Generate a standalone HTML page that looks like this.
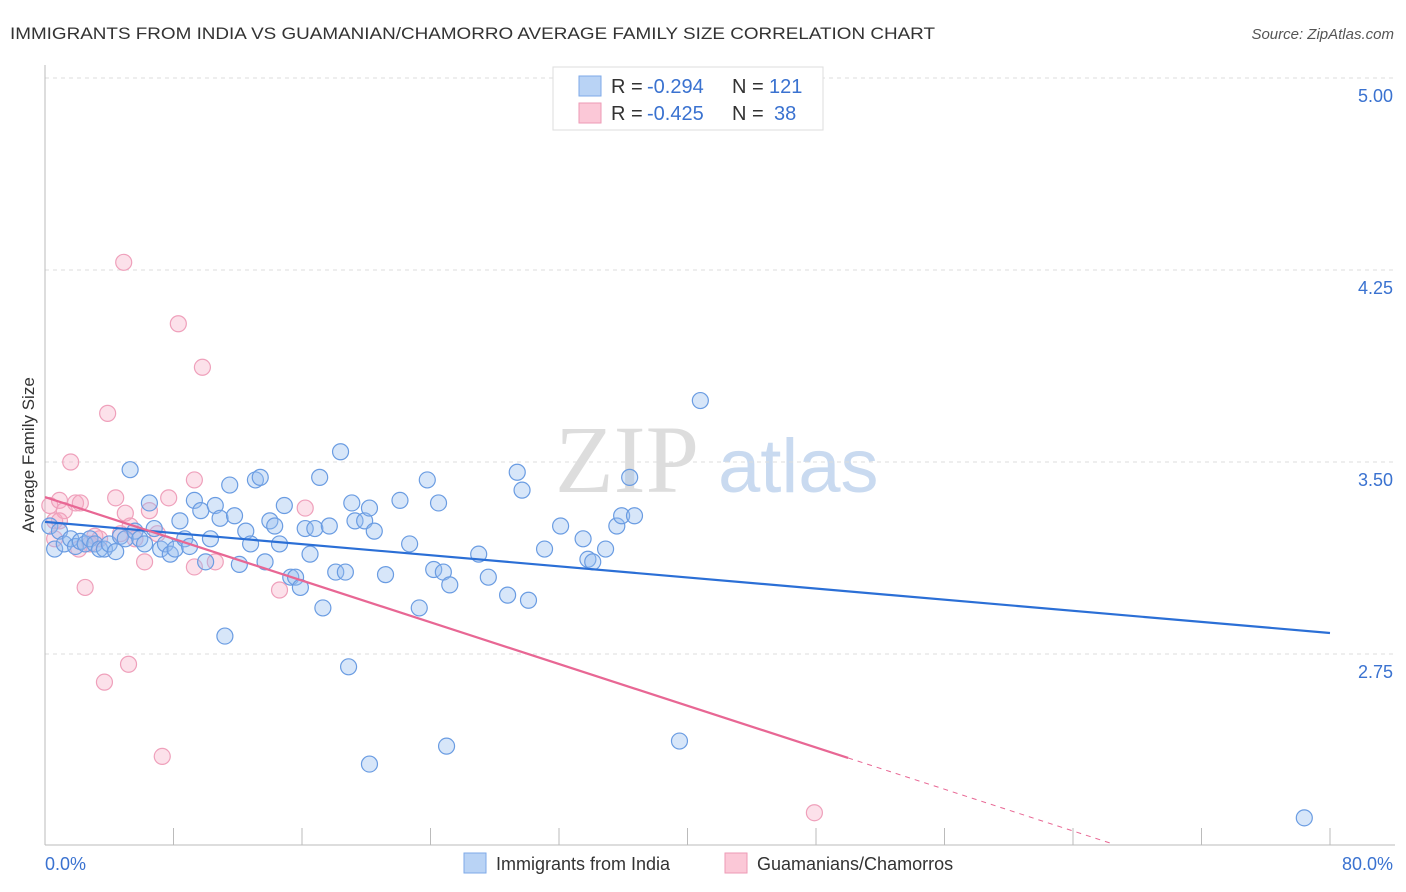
<!DOCTYPE html>
<html><head><meta charset="utf-8"><style>
body{margin:0;background:#fff;font-family:"Liberation Sans",sans-serif;}
svg{display:block}
</style></head><body>
<svg id="chart" width="1406" height="892">
<text x="10" y="39" font-size="17" fill="#333" textLength="925" lengthAdjust="spacingAndGlyphs">IMMIGRANTS FROM INDIA VS GUAMANIAN/CHAMORRO AVERAGE FAMILY SIZE CORRELATION CHART</text>
<text x="1394" y="39" font-size="15" fill="#555" font-style="italic" text-anchor="end">Source: ZipAtlas.com</text>
<g>
<text x="555" y="492" font-size="96" font-family="Liberation Serif,serif" fill="#ddd">ZIP</text>
<text x="718" y="492" font-size="76" fill="#c9daf0">atlas</text>
</g>
<g id="grid"></g>
<g id="axes"></g>
<g id="marks"></g>
<text transform="translate(34,455) rotate(-90)" font-size="17" fill="#333" text-anchor="middle">Average Family Size</text>
<g>
<rect x="553" y="67" width="270" height="63" fill="#fff" stroke="#ddd"/>
<rect x="579" y="76" width="22" height="20" fill="#b9d3f5" stroke="#7eaae8"/>
<rect x="579" y="103" width="22" height="20" fill="#fbc8d7" stroke="#ee9ab6"/>
<text x="611" y="93" font-size="20" fill="#333">R =</text>
<text x="647" y="93" font-size="20" fill="#3a72d0">-0.294</text>
<text x="732" y="93" font-size="20" fill="#333">N =</text>
<text x="769" y="93" font-size="20" fill="#3a72d0">121</text>
<text x="611" y="120" font-size="20" fill="#333">R =</text>
<text x="647" y="120" font-size="20" fill="#3a72d0">-0.425</text>
<text x="732" y="120" font-size="20" fill="#333">N =</text>
<text x="774" y="120" font-size="20" fill="#3a72d0">38</text>
</g>
<g>
<rect x="464" y="853" width="22" height="20" fill="#b9d3f5" stroke="#7eaae8"/>
<text x="496" y="870" font-size="18" fill="#333">Immigrants from India</text>
<rect x="725" y="853" width="22" height="20" fill="#fbc8d7" stroke="#ee9ab6"/>
<text x="757" y="870" font-size="18" fill="#333">Guamanians/Chamorros</text>
</g>
</svg>
<script>
const indiaX=[0.3,0.6,0.9,1.2,1.6,1.9,2.2,2.5,2.8,3.1,3.4,3.7,4.0,4.4,4.7,5.0,5.3,5.6,5.9,6.2,6.5,6.8,7.2,7.5,7.8,8.1,8.4,8.7,9.0,9.3,9.7,10.0,10.3,10.6,10.9,11.2,11.5,11.8,12.1,12.5,12.8,13.1,13.4,13.7,14.0,14.3,14.6,14.9,15.3,15.6,15.9,16.2,16.5,16.8,17.1,17.3,17.7,18.1,18.4,18.7,18.9,19.1,19.3,19.9,20.2,20.2,20.5,21.2,22.1,22.7,23.3,23.8,24.2,24.5,24.8,25.0,25.2,27.0,27.6,28.8,29.4,29.7,30.1,31.1,32.1,33.5,33.8,34.1,34.9,35.6,35.9,36.4,36.7,39.5,40.8,78.4];
const indiaY=[3.25,3.16,3.23,3.18,3.20,3.17,3.19,3.18,3.20,3.18,3.16,3.16,3.18,3.15,3.21,3.20,3.47,3.23,3.20,3.18,3.34,3.24,3.16,3.18,3.14,3.16,3.27,3.20,3.17,3.35,3.31,3.11,3.20,3.33,3.28,2.82,3.41,3.29,3.10,3.23,3.18,3.43,3.44,3.11,3.27,3.25,3.18,3.33,3.05,3.05,3.01,3.24,3.14,3.24,3.44,2.93,3.25,3.07,3.54,3.07,2.70,3.34,3.27,3.27,3.32,2.32,3.23,3.06,3.35,3.18,2.93,3.43,3.08,3.34,3.07,2.39,3.02,3.14,3.05,2.98,3.46,3.39,2.96,3.16,3.25,3.20,3.12,3.11,3.16,3.25,3.29,3.44,3.29,2.41,3.74,2.11];
const guamX=[0.3,0.6,0.9,1.2,1.6,1.9,2.2,2.5,2.8,3.1,3.4,3.9,4.4,4.7,5.0,4.9,5.3,5.6,6.2,6.5,7.0,7.3,7.7,8.3,9.3,9.3,9.8,10.6,14.6,16.2,47.9,3.7,5.2,0.6,0.9,2.1];
const guamY=[3.33,3.27,3.35,3.31,3.50,3.34,3.34,3.01,3.18,3.21,3.20,3.69,3.36,3.22,3.30,4.28,3.25,3.20,3.11,3.31,3.22,2.35,3.36,4.04,3.43,3.09,3.87,3.11,3.00,3.32,2.13,2.64,2.71,3.20,3.27,3.16];
const indiaTrend=[3.266,2.832];   // y at x=0 and x=80
const guamTrend=[3.363,2.344];    // y at x=0 and x=50 (solid end)
const guamDashEnd=66.3;
const yTicks=[5.00,4.25,3.50,2.75];
const xTickVals=[0,8,16,24,32,40,48,56,64,72,80];
const xLabels=["0.0%","80.0%"];

const NS="http://www.w3.org/2000/svg";
const X=v=>45+v/80*1285;
const Y=v=>78+(5-v)*256;
function mk(tag,attrs,parent){const e=document.createElementNS(NS,tag);for(const k in attrs)e.setAttribute(k,attrs[k]);parent.appendChild(e);return e;}
const grid=document.getElementById('grid'),axes=document.getElementById('axes'),marks=document.getElementById('marks');
yTicks.forEach(t=>{
 const l=mk('line',{x1:45,x2:1395,y1:Y(t),y2:Y(t),stroke:'#ddd','stroke-dasharray':'4,4'},grid);
 
 
 const tx=mk('text',{x:1393,y:Y(t)+24,'font-size':18,fill:'#3a72d0','text-anchor':'end'},axes);
 tx.textContent=t.toFixed(2);
 
 
});
const la=mk('line',{x1:45,x2:45,y1:65,y2:845,stroke:'#bbb'},axes);


const ba=mk('line',{x1:45,x2:1395,y1:845,y2:845,stroke:'#bbb'},axes);


xTickVals.forEach(v=>{
 const t=mk('line',{x1:X(v),x2:X(v),y1:828,y2:845,stroke:'#bbb'},axes);
 
 
});
const xl0=mk('text',{x:45,y:870,'font-size':18,fill:'#3a72d0'},axes);xl0.textContent=xLabels[0];


const xl1=mk('text',{x:1393,y:870,'font-size':18,fill:'#3a72d0','text-anchor':'end'},axes);xl1.textContent=xLabels[1];



guamX.forEach((x,i)=>{
 const c=mk('circle',{cx:X(x),cy:Y(guamY[i]),r:8,fill:'rgba(246,170,195,0.35)',stroke:'#efa0bb','stroke-width':1.2},marks);
 
 
});
indiaX.forEach((x,i)=>{
 const c=mk('circle',{cx:X(x),cy:Y(indiaY[i]),r:8,fill:'rgba(150,190,240,0.38)',stroke:'#6a9ce2','stroke-width':1.2},marks);
 
 
});
const bl=mk('line',{x1:X(0),y1:Y(indiaTrend[0]),x2:X(80),y2:Y(indiaTrend[1]),stroke:'#2b6fd6','stroke-width':2.2},marks);


const slope=(guamTrend[1]-guamTrend[0])/50;
const pl=mk('line',{x1:X(0),y1:Y(guamTrend[0]),x2:X(50),y2:Y(guamTrend[1]),stroke:'#e86794','stroke-width':2.2},marks);


const pd=mk('line',{x1:X(50),y1:Y(guamTrend[1]),x2:X(guamDashEnd),y2:Y(guamTrend[0]+slope*guamDashEnd),stroke:'#e86794','stroke-width':1,'stroke-dasharray':'5,5'},marks);


</script>
</body></html>
